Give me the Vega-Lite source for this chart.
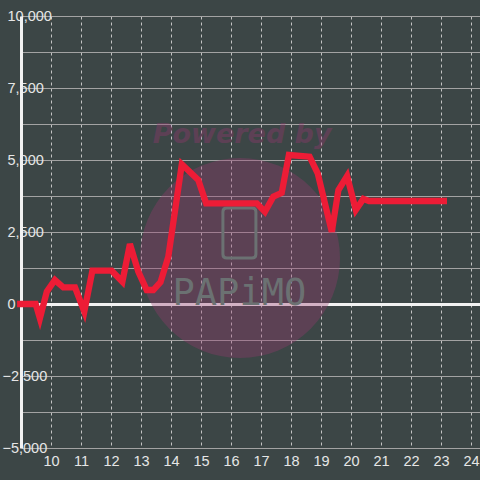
{
  "$schema": "https://vega.github.io/schema/vega-lite/v6.json",
  "width": 459,
  "height": 432,
  "autosize": {"type": "none"},
  "padding": {"left": 21, "top": 16, "right": 0, "bottom": 32},
  "background": "#3c4646",
  "config": {
    "view": {"stroke": null},
    "axis": {"labelFont": "Liberation Sans", "labelFontSize": 14.5, "labelColor": "#e6e6e6"}
  },
  "datasets": {
    "series": [
      {"x": 8.87, "y": 0},
      {"x": 9.49, "y": 0},
      {"x": 9.63, "y": -500},
      {"x": 9.86, "y": 430},
      {"x": 10.13, "y": 833},
      {"x": 10.41, "y": 580},
      {"x": 10.8, "y": 580},
      {"x": 11.11, "y": -267},
      {"x": 11.38, "y": 1157},
      {"x": 12.02, "y": 1157},
      {"x": 12.38, "y": 775},
      {"x": 12.63, "y": 2083},
      {"x": 12.91, "y": 1122},
      {"x": 13.19, "y": 486},
      {"x": 13.41, "y": 486},
      {"x": 13.65, "y": 760},
      {"x": 13.91, "y": 1642},
      {"x": 14.36, "y": 4850},
      {"x": 14.91, "y": 4305},
      {"x": 15.17, "y": 3496},
      {"x": 16.86, "y": 3496},
      {"x": 17.13, "y": 3205},
      {"x": 17.41, "y": 3726},
      {"x": 17.69, "y": 3860},
      {"x": 17.93, "y": 5174},
      {"x": 18.62, "y": 5114},
      {"x": 18.89, "y": 4538},
      {"x": 19.36, "y": 2510},
      {"x": 19.58, "y": 3958},
      {"x": 19.87, "y": 4444},
      {"x": 20.16, "y": 3264},
      {"x": 20.41, "y": 3650},
      {"x": 20.6, "y": 3576},
      {"x": 23.2, "y": 3576}
    ],
    "circle": [{"x": 16.3, "y": 1597}],
    "powered": [{"x": 16.37, "y": 5590, "label": "Powered by"}],
    "logo": [{"x": 16.28, "y": -35, "label": "PAPiMO"}],
    "icon": [{"x": 16.28, "y": 2465}]
  },
  "encoding": {
    "x": {
      "field": "x", "type": "quantitative",
      "scale": {"domain": [9, 24.3], "nice": false, "zero": false},
      "axis": {
        "values": [10, 11, 12, 13, 14, 15, 16, 17, 18, 19, 20, 21, 22, 23, 24],
        "format": "d", "title": null, "domain": false, "ticks": false,
        "labelPadding": 6, "labelAlign": "center",
        "grid": true, "gridColor": "#c4c4c4", "gridDash": [3, 3], "gridWidth": 1
      }
    },
    "y": {
      "field": "y", "type": "quantitative",
      "scale": {"domain": [-5000, 10000], "nice": false, "zero": false},
      "axis": {
        "values": [-5000, -3750, -2500, -1250, 0, 1250, 2500, 3750, 5000, 6250, 7500, 8750, 10000],
        "labelExpr": "datum.value % 2500 === 0 ? format(datum.value, ',') : ''",
        "title": null, "ticks": false,
        "domainColor": "#f2f2f2", "domainWidth": 3,
        "labelAlign": "left", "labelBaseline": "middle",
        "labelPadding": {"condition": {"test": "datum.value < 0", "value": 19}, "value": 14},
        "grid": true,
        "gridColor": {"condition": {"test": "datum.value === 0", "value": "#f2f2f2"}, "value": "#a3a3a3"},
        "gridWidth": {"condition": {"test": "datum.value === 0", "value": 3}, "value": 1}
      }
    }
  },
  "layer": [
    {
      "data": {"name": "circle"},
      "mark": {"type": "point", "shape": "circle", "filled": true, "size": 40000, "color": "#973871", "opacity": 0.35, "strokeWidth": 0}
    },
    {
      "data": {"name": "powered"},
      "mark": {"type": "text", "font": "DejaVu Sans", "fontWeight": "bold", "fontStyle": "italic", "fontSize": 27, "color": "#973871", "opacity": 0.36, "align": "center", "baseline": "alphabetic"},
      "encoding": {"text": {"field": "label"}}
    },
    {
      "data": {"name": "logo"},
      "mark": {"type": "text", "font": "DejaVu Sans Mono", "fontSize": 37, "color": "#6b7172", "align": "center", "baseline": "alphabetic"},
      "encoding": {"text": {"field": "label"}}
    },
    {
      "data": {"name": "icon"},
      "mark": {"type": "point", "shape": "M-0.66,-0.85 Q-0.66,-1 -0.5,-1 L0.5,-1 Q0.66,-1 0.66,-0.85 L0.66,0.85 Q0.66,1 0.5,1 L-0.5,1 Q-0.66,1 -0.66,0.85 Z", "filled": false, "size": 2500, "color": "#6b7172", "strokeWidth": 3, "opacity": 1}
    },
    {
      "data": {"name": "series"},
      "mark": {"type": "line", "color": "#ed1c36", "strokeWidth": 6.3}
    }
  ]
}
